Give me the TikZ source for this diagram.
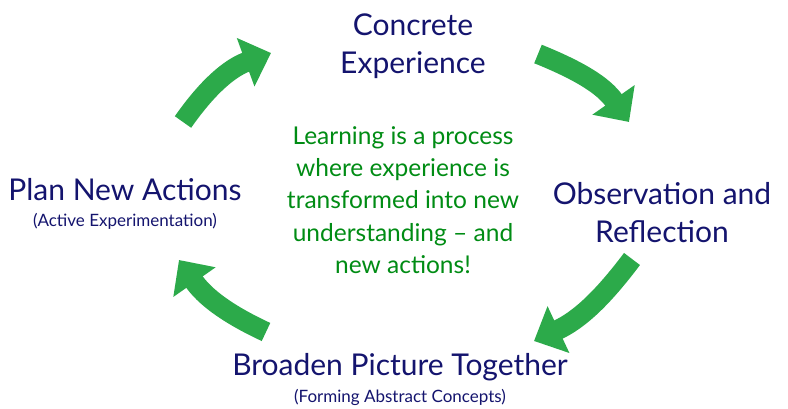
\documentclass[tikz,border=0pt]{standalone}
\usepackage{fontspec}
\setmainfont{Lato}
\usetikzlibrary{arrows.meta}
\definecolor{navy}{RGB}{20,20,110}
\definecolor{leafgreen}{RGB}{0,140,20}
\definecolor{arrowgreen}{RGB}{44,170,74}
\tikzset{
  stage/.style={text=navy, align=center, inner sep=0pt, font=\fontsize{30}{38}\selectfont},
  note/.style={text=navy, align=center, inner sep=0pt, font=\fontsize{17}{20}\selectfont},
  core/.style={text=leafgreen, align=center, inner sep=0pt, font=\fontsize{24.5}{32.2}\selectfont},
  cyclearrow/.style={draw=arrowgreen, line width=20pt,
    -{Triangle[width=50pt,length=27pt]}}
}
\begin{document}
\begin{tikzpicture}[x=1pt,y=1pt]
\useasboundingbox (0,0) rectangle (788,409);
\fill[white] (0,0) rectangle (788,409);

% four stages of the cycle
\node[stage] (ce) at (413,363) {Concrete\\Experience};
\node[stage] (or) at (662,196) {Observation and\\Reflection};
\node[stage] (bp) at (400,42) {Broaden Picture Together};
\node[note]  (bpn) at (400,12) {(Forming Abstract Concepts)};
\node[stage] (pa) at (125,219) {Plan New Actions};
\node[note]  (pan) at (125,188) {(Active Experimentation)};

% central statement
\node[core] (mid) at (403,209) {Learning is a process\\where experience is\\transformed into new\\understanding -- and\\new actions!};

% arrow end points
\coordinate (a1s) at (183,287);
\coordinate (a1e) at (271,356);
\coordinate (a2s) at (538,355);
\coordinate (a2e) at (629,287);
\coordinate (a3s) at (632,150);
\coordinate (a3e) at (534,68);
\coordinate (a4s) at (266,77);
\coordinate (a4e) at (179,149);

% clockwise arrows between the stages
\draw[cyclearrow] (a1s) to[out=55,in=200] (a1e);
\draw[cyclearrow] (a2s) to[out=-22,in=125] (a2e);
\draw[cyclearrow] (a3s) to[out=-127,in=25] (a3e);
\draw[cyclearrow] (a4s) to[out=155,in=-55] (a4e);
\end{tikzpicture}
\end{document}
